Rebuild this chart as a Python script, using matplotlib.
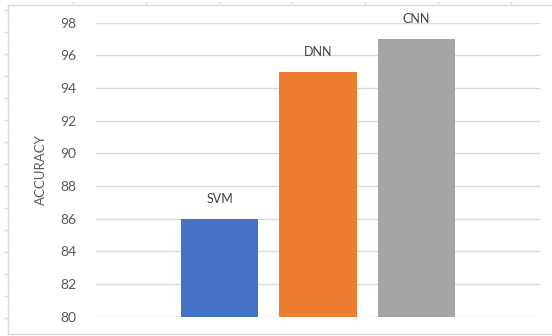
import matplotlib
matplotlib.use("Agg")
import matplotlib.pyplot as plt
from matplotlib.lines import Line2D

categories = ["SVM", "DNN", "CNN"]
accuracy = [86, 95, 97]
colors = ["#4472C4", "#ED7D31", "#A5A5A5"]
yticks = [80, 82, 84, 86, 88, 90, 92, 94, 96, 98]

plt.rcParams['font.family'] = ['Lato', 'DejaVu Sans']
W, H = 552, 336
fig = plt.figure(figsize=(W / 100, H / 100), dpi=100)
fig.patch.set_facecolor("white")

ax = fig.add_axes([96 / W, 1 - 316.7 / H, (540 - 96) / W, (316.7 - 22.7) / H])
x = list(range(len(categories)))
ax.bar(x, [a - 80 for a in accuracy], bottom=80, width=0.787, color=colors, zorder=3)
for xi, a, c in zip(x, accuracy, categories):
    ax.annotate(c, (xi, a), xytext=(0, 10), textcoords="offset points",
                ha="center", va="bottom", fontsize=9, color="#404040")
ax.set_xlim(-1.254, 3.254)
ax.set_ylim(80, 98)
ax.set_yticks(yticks)
ax.set_xticks([])
ax.grid(axis="y", color="#D9D9D9", linewidth=1, zorder=0)
for s in ax.spines.values():
    s.set_visible(False)
ax.tick_params(axis="y", length=0, pad=14, labelsize=10, labelcolor="#595959")
ax.set_ylabel("ACCURACY", fontsize=9.5, color="#595959", labelpad=10)

# outer chart frame
fc = "#D9D9D9"
fig.add_artist(Line2D([8 / W, 8 / W], [1 - 334 / H, 1 - 5 / H], color=fc, lw=1))
fig.add_artist(Line2D([8 / W, 1], [1 - 5 / H, 1 - 5 / H], color=fc, lw=1))
fig.add_artist(Line2D([8 / W, 1], [1 - 334 / H, 1 - 334 / H], color=fc, lw=1))
# small sheet grid marks outside the frame
for yy in range(10, 334, 22):
    fig.add_artist(Line2D([4 / W, 8 / W], [1 - yy / H, 1 - yy / H], color="#E0E0E0", lw=1))
for xx in range(73, 552, 73):
    fig.add_artist(Line2D([xx / W, xx / W], [1 - 2 / H, 1 - 5 / H], color="#E0E0E0", lw=1))

fig.savefig("out.png", dpi=100, facecolor="white")
